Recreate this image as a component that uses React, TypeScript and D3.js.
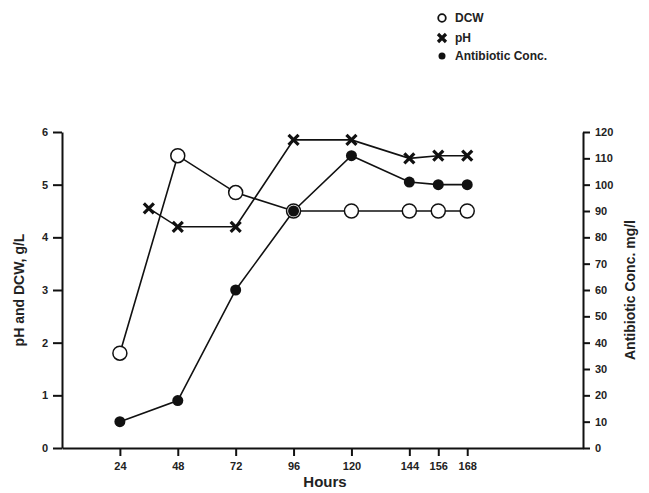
import React, { useEffect, useRef } from "react";
import { select, scaleLinear, axisBottom, axisLeft, axisRight, line, format } from "d3";

// hours
const dcwHours = [24, 48, 72, 96, 120, 144, 156, 168];
const dcw = [1.8, 5.55, 4.85, 4.5, 4.5, 4.5, 4.5, 4.5];

const phHours = [36, 48, 72, 96, 120, 144, 156, 168];
const ph = [4.55, 4.2, 4.2, 5.85, 5.85, 5.5, 5.55, 5.55];

const abHours = [24, 48, 72, 96, 120, 144, 156, 168];
const antibiotic = [10, 18, 60, 90, 111, 101, 100, 100];

const xTicks = [24, 48, 72, 96, 120, 144, 156, 168];
const leftTicks = [0, 1, 2, 3, 4, 5, 6];
const rightTicks = [0, 10, 20, 30, 40, 50, 60, 70, 80, 90, 100, 110, 120];

const legendItems = ["DCW", "pH", "Antibiotic Conc."];

const FONT = "Liberation Sans, Arial, sans-serif";

const App = () => {
  const svgRef = useRef<SVGSVGElement>(null);

  useEffect(() => {
    const svg = select(svgRef.current);
    svg.selectAll("*").remove();

    const x = scaleLinear().domain([0, 216]).range([62, 583]);
    const yL = scaleLinear().domain([0, 6]).range([448, 132]);
    const yR = scaleLinear().domain([0, 120]).range([448, 132]);

    const styleAxis = (g: any) => {
      g.select(".domain").attr("stroke", "#111").attr("stroke-width", 2);
      g.selectAll(".tick line").attr("stroke", "#111").attr("stroke-width", 2);
      g.selectAll(".tick text")
        .attr("fill", "#222")
        .style("font", `bold 11px ${FONT}`);
    };

    svg
      .append("g")
      .attr("transform", "translate(0,448)")
      .call(axisBottom(x).tickValues(xTicks).tickSize(8).tickSizeOuter(0).tickPadding(6))
      .call(styleAxis);

    svg
      .append("g")
      .attr("transform", "translate(62,0)")
      .call(
        axisLeft(yL).tickValues(leftTicks).tickFormat(format("d")).tickSize(9).tickSizeOuter(0).tickPadding(5)
      )
      .call(styleAxis);

    svg
      .append("g")
      .attr("transform", "translate(583,0)")
      .call(axisRight(yR).tickValues(rightTicks).tickSize(7).tickSizeOuter(0).tickPadding(5))
      .call(styleAxis);

    // axis titles
    svg
      .append("text")
      .attr("x", 325)
      .attr("y", 487)
      .attr("text-anchor", "middle")
      .style("font", `bold 15px ${FONT}`)
      .attr("fill", "#222")
      .text("Hours");
    svg
      .append("text")
      .attr("transform", "translate(24,290) rotate(-90)")
      .attr("text-anchor", "middle")
      .style("font", `bold 14px ${FONT}`)
      .attr("fill", "#222")
      .text("pH and DCW, g/L");
    svg
      .append("text")
      .attr("transform", "translate(635,290) rotate(-90)")
      .attr("text-anchor", "middle")
      .style("font", `bold 14px ${FONT}`)
      .attr("fill", "#222")
      .text("Antibiotic Conc. mg/l");

    const drawLine = (xs: number[], ys: number[], yScale: any) => {
      const pts = xs.map((h, i) => [x(h), yScale(ys[i])] as [number, number]);
      svg
        .append("path")
        .attr("d", line()(pts))
        .attr("fill", "none")
        .attr("stroke", "#111")
        .attr("stroke-width", 1.6);
      return pts;
    };

    const dcwPts = drawLine(dcwHours, dcw, yL);
    const phPts = drawLine(phHours, ph, yL);
    const abPts = drawLine(abHours, antibiotic, yR);

    const xMark = (g: any, cx: number, cy: number, s: number) => {
      g.append("path")
        .attr("d", `M${cx - s},${cy - s}L${cx + s},${cy + s}M${cx + s},${cy - s}L${cx - s},${cy + s}`)
        .attr("stroke", "#111")
        .attr("stroke-width", 3.2);
    };

    // DCW open circles
    dcwPts.forEach(([cx, cy]) => {
      svg
        .append("circle")
        .attr("cx", cx)
        .attr("cy", cy)
        .attr("r", 7)
        .attr("fill", "#fff")
        .attr("stroke", "#111")
        .attr("stroke-width", 1.5);
    });

    // antibiotic filled dots
    abPts.forEach(([cx, cy]) => {
      svg.append("circle").attr("cx", cx).attr("cy", cy).attr("r", 5.5).attr("fill", "#111");
    });

    phPts.forEach(([cx, cy]) => xMark(svg, cx, cy, 5));

    // legend
    const lg = svg.append("g");
    legendItems.forEach((label, i) => {
      const ly = 18 + i * 20;
      if (i === 0) {
        lg.append("circle").attr("cx", 442).attr("cy", ly).attr("r", 3.8)
          .attr("fill", "#fff").attr("stroke", "#111").attr("stroke-width", 1.8);
      } else if (i === 1) {
        xMark(lg, 442, ly, 4);
      } else {
        lg.append("circle").attr("cx", 442).attr("cy", ly - 2).attr("r", 3.5).attr("fill", "#111");
      }
      lg.append("text")
        .attr("x", 455)
        .attr("y", ly + (i === 2 ? 2 : 4))
        .style("font", `bold 12px ${FONT}`)
        .attr("fill", "#222")
        .text(label);
    });
  }, []);

  return (
    <svg
      ref={svgRef}
      width={649}
      height={493}
      style={{ position: "absolute", left: 0, top: 0, background: "#fff" }}
    />
  );
};

export default App;
